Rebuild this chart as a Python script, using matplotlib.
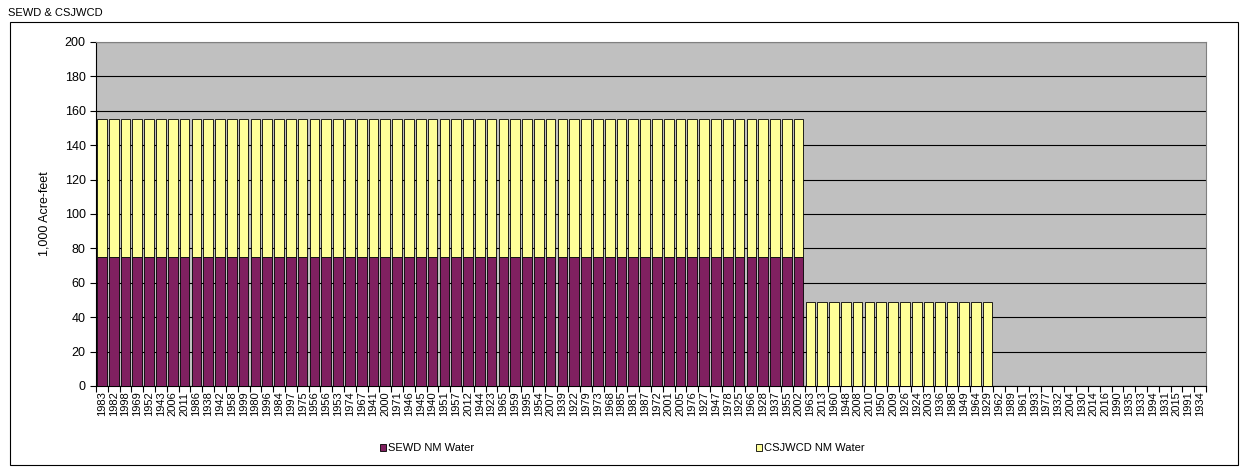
import matplotlib
matplotlib.use("Agg")
import matplotlib.pyplot as plt
from matplotlib.patches import Rectangle

years = ["1983", "1982", "1998", "1969", "1952", "1943", "2006", "2011", "1986", "1938",
         "1942", "1958", "1999", "1980", "1996", "1984", "1997", "1975", "1956", "1956",
         "1953", "1974", "1967", "1941", "2000", "1971", "1946", "1945", "1940", "1951",
         "1957", "2012", "1944", "1923", "1965", "1959", "1995", "1954", "2007", "1939",
         "1922", "1979", "1973", "1968", "1985", "1981", "1987", "1972", "2001", "2005",
         "1976", "1927", "1947", "1978", "1925", "1966", "1928", "1937", "1955", "2002",
         "1963", "2013", "1960", "1948", "2008", "2010", "1950", "2009", "1926", "1924",
         "2003", "1936", "1988", "1949", "1964", "1929",
         "1962", "1989", "1961", "1993", "1977", "1932", "2004", "1930", "2014", "2016",
         "1990", "1935", "1933", "1994", "1931", "2015", "1991", "1934"]

sewd = [75, 75, 75, 75, 75, 75, 75, 75, 75, 75,
        75, 75, 75, 75, 75, 75, 75, 75, 75, 75,
        75, 75, 75, 75, 75, 75, 75, 75, 75, 75,
        75, 75, 75, 75, 75, 75, 75, 75, 75, 75,
        75, 75, 75, 75, 75, 75, 75, 75, 75, 75,
        75, 75, 75, 75, 75, 75, 75, 75, 75, 75,
        0, 0, 0, 0, 0, 0, 0, 0, 0, 0,
        0, 0, 0, 0, 0, 0,
        0, 0, 0, 0, 0, 0, 0, 0, 0, 0,
        0, 0, 0, 0, 0, 0, 0, 0]

csjwcd = [80, 80, 80, 80, 80, 80, 80, 80, 80, 80,
          80, 80, 80, 80, 80, 80, 80, 80, 80, 80,
          80, 80, 80, 80, 80, 80, 80, 80, 80, 80,
          80, 80, 80, 80, 80, 80, 80, 80, 80, 80,
          80, 80, 80, 80, 80, 80, 80, 80, 80, 80,
          80, 80, 80, 80, 80, 80, 80, 80, 80, 80,
          49, 49, 49, 49, 49, 49, 49, 49, 49, 49,
          49, 49, 49, 49, 49, 49,
          0, 0, 0, 0, 0, 0, 0, 0, 0, 0,
          0, 0, 0, 0, 0, 0, 0, 0]

series_names = ["SEWD NM Water", "CSJWCD NM Water"]
title = "SEWD & CSJWCD"
ylabel = "1,000 Acre-feet"
yticks = [0, 20, 40, 60, 80, 100, 120, 140, 160, 180, 200]

plt.rcParams['font.family'] = ['Liberation Sans', 'DejaVu Sans']

fig = plt.figure(figsize=(12.49, 4.70), dpi=100)
W, H = 1249, 470

# outer chart frame
fig.patches.append(Rectangle((10 / W, 1 - 465 / H), (1238 - 10) / W, (465 - 22) / H,
                             transform=fig.transFigure, fill=False,
                             edgecolor='black', linewidth=0.8))
fig.text(8 / W, 1 - 13 / H, title, fontsize=8, va='center', ha='left')

ax = fig.add_axes([96 / W, 1 - 386 / H, (1206 - 96) / W, (386 - 42) / H])
ax.set_facecolor('#C0C0C0')

x = list(range(len(years)))
ax.bar(x, sewd, width=0.82, color='#802060', edgecolor='black', linewidth=0.6,
       label=series_names[0], zorder=3)
ax.bar(x, csjwcd, bottom=sewd, width=0.82, color='#FFFF99', edgecolor='black',
       linewidth=0.6, label=series_names[1], zorder=3)

ax.set_xlim(-0.5, len(years) - 0.5)
ax.set_ylim(0, 200)
ax.set_yticks(yticks)
ax.yaxis.grid(True, color='black', linewidth=0.8, zorder=1)
ax.set_axisbelow(True)
ax.tick_params(axis='y', labelsize=9, length=4, width=0.8, direction='out')
ax.set_ylabel(ylabel, fontsize=9, labelpad=10)

ax.set_xticks([i - 0.5 for i in x] + [len(years) - 0.5], minor=False)
ax.set_xticklabels([''] * (len(years) + 1))
ax.set_xticks(x, minor=True)
ax.set_xticklabels(years, minor=True, rotation=90, fontsize=8)
ax.tick_params(axis='x', which='major', length=4, width=0.8, direction='out')
ax.tick_params(axis='x', which='minor', length=0, pad=4)

for s in ['top', 'right']:
    ax.spines[s].set_color('#808080')
for s in ['left', 'bottom']:
    ax.spines[s].set_color('black')
    ax.spines[s].set_linewidth(0.8)

h, l = ax.get_legend_handles_labels()
fig.legend([h[0]], [l[0]], loc='center left', bbox_to_anchor=(374 / W, 1 - 448 / H),
           frameon=False, fontsize=8, handlelength=0.6, handleheight=0.6,
           handletextpad=0.2, borderpad=0)
fig.legend([h[1]], [l[1]], loc='center left', bbox_to_anchor=(750 / W, 1 - 448 / H),
           frameon=False, fontsize=8, handlelength=0.6, handleheight=0.6,
           handletextpad=0.2, borderpad=0)

fig.savefig('out.png', dpi=100)
